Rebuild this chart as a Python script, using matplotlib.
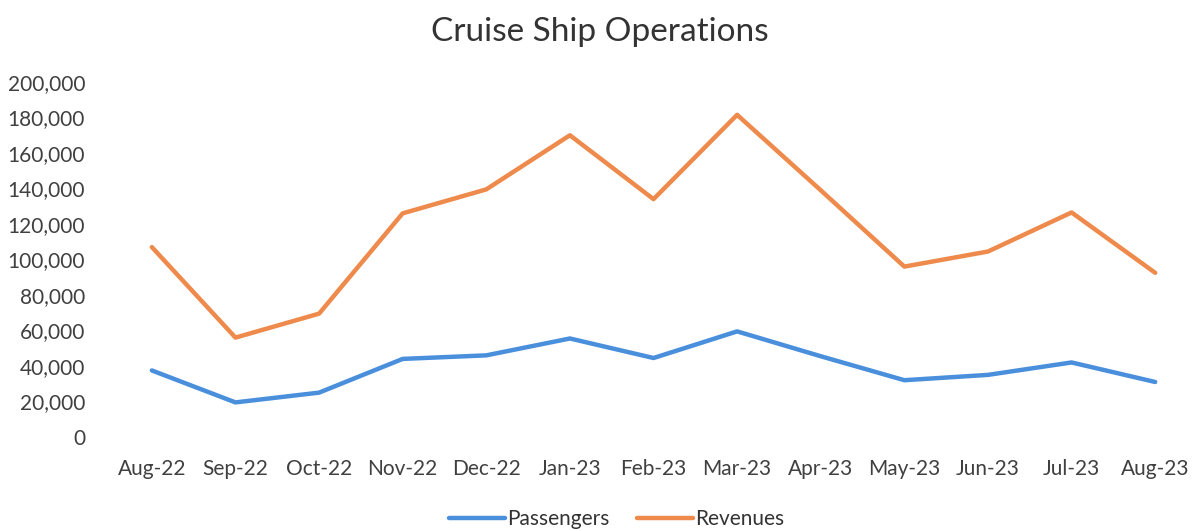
import matplotlib.pyplot as plt
from matplotlib.ticker import FuncFormatter

months = ["Aug-22", "Sep-22", "Oct-22", "Nov-22", "Dec-22", "Jan-23", "Feb-23",
          "Mar-23", "Apr-23", "May-23", "Jun-23", "Jul-23", "Aug-23"]
passengers = [37500, 19500, 25000, 44000, 46000, 55500, 44500,
              59500, 45500, 32000, 35000, 42000, 31000]
revenues = [107000, 56000, 69500, 126000, 139500, 170000, 134000,
            181500, 139000, 96000, 104500, 126500, 92500]

plt.rcParams['font.family'] = ['Lato', 'DejaVu Sans']

fig = plt.figure(figsize=(12, 5.31), dpi=100)
ax = fig.add_axes([0.0917, 0.177, 0.9058, 0.6686])

x = range(len(months))
ax.plot(x, passengers, color='#4a8fdc', lw=3.2, label='Passengers', solid_capstyle='round')
ax.plot(x, revenues, color='#ee8a4c', lw=3.2, label='Revenues', solid_capstyle='round')

ax.set_xlim(-0.5, len(months) - 0.5)
ax.set_ylim(0, 200000)
ax.set_yticks(range(0, 200001, 20000))
ax.yaxis.set_major_formatter(FuncFormatter(lambda v, p: f"{int(v):,}"))
ax.set_xticks(list(x))
ax.set_xticklabels(months)
for s in ax.spines.values():
    s.set_visible(False)
ax.tick_params(length=0, labelsize=15, colors='#404040')
ax.tick_params(axis='y', pad=18)
ax.tick_params(axis='x', pad=16)

fig.suptitle("Cruise Ship Operations", y=0.968, fontsize=24, color='#333333')

fig.legend(loc='center', bbox_to_anchor=(0.514, 0.022), ncol=2, frameon=False,
           fontsize=15, handlelength=2.7, handletextpad=0.1, columnspacing=1.3,
           labelcolor='#333333', borderpad=0)

fig.savefig('out.png', dpi=100)
